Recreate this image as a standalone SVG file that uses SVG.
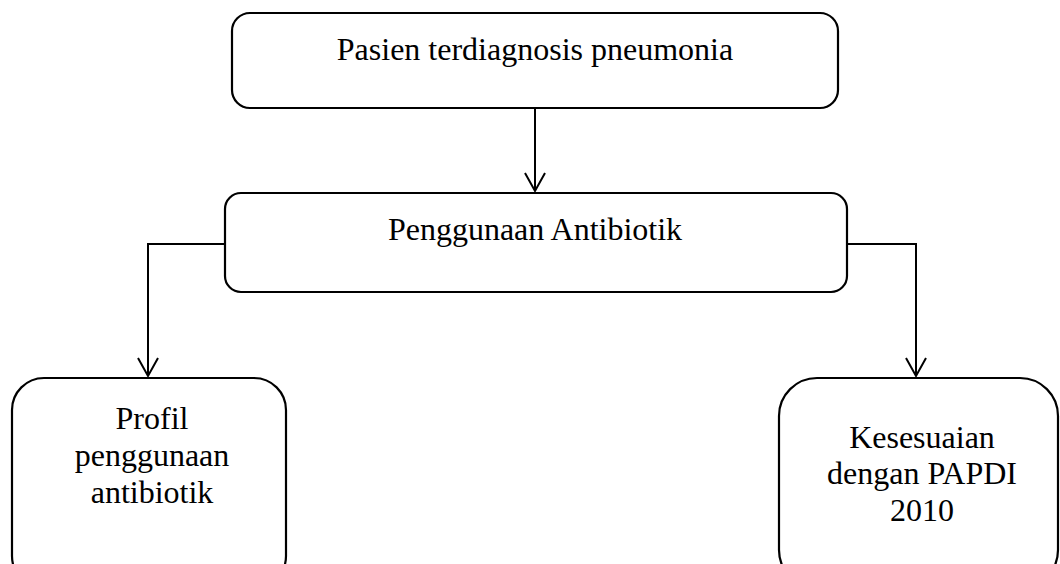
<svg xmlns="http://www.w3.org/2000/svg" width="1060" height="564" viewBox="0 0 1060 564">
<style>
.box{fill:#fff;stroke:#000;stroke-width:2.2}
.t{font-family:"Liberation Serif","Times New Roman",serif;font-size:32px;fill:#000;text-anchor:middle}
.c{fill:none;stroke:#000;stroke-width:2}
</style>
<rect width="1060" height="564" fill="#fff"/>
<g id="connectors">
<path class="c" d="M535,108 L535,191"/>
<path class="c" d="M525,173 L535,191 L545,173"/>
<path class="c" d="M225,244 L148,244 L148,376"/>
<path class="c" d="M138,358 L148,376 L158,358"/>
<path class="c" d="M847,244 L916,244 L916,376"/>
<path class="c" d="M906,358 L916,376 L926,358"/>
</g>
<g id="n1">
<rect class="box" x="232" y="13" width="606" height="95" rx="18"/>
<text class="t" x="535" y="60">Pasien terdiagnosis pneumonia</text>
</g>
<g id="n2">
<rect class="box" x="225" y="193" width="622" height="99" rx="16"/>
<text class="t" x="535" y="240">Penggunaan Antibiotik</text>
</g>
<g id="n3">
<rect class="box" x="12" y="378" width="274" height="210" rx="32"/>
<text class="t" x="152" y="429">Profil</text>
<text class="t" x="152" y="466">penggunaan</text>
<text class="t" x="152" y="503">antibiotik</text>
</g>
<g id="n4">
<rect class="box" x="779" y="378" width="279" height="210" rx="38"/>
<text class="t" x="922" y="448">Kesesuaian</text>
<text class="t" x="922" y="484">dengan PAPDI</text>
<text class="t" x="922" y="521">2010</text>
</g>
</svg>
